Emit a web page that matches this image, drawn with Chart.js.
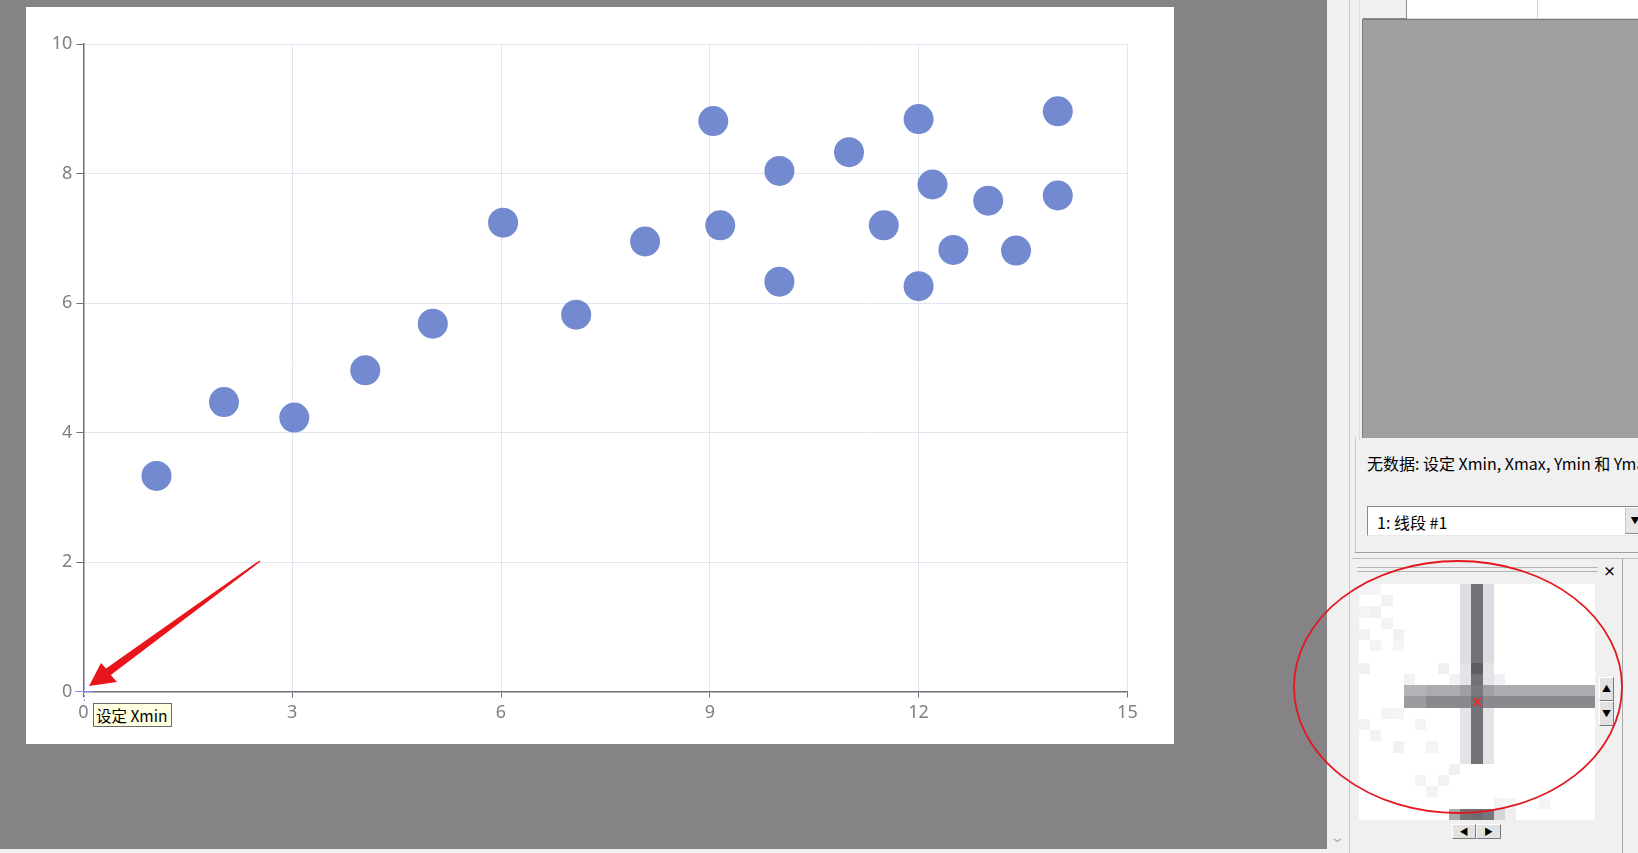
<!DOCTYPE html>
<html>
<head>
<meta charset="utf-8">
<script src="https://cdn.jsdelivr.net/npm/chart.js@4"></script>
<style>
  html, body { margin: 0; padding: 0; }
  body { width: 1638px; height: 853px; overflow: hidden; position: relative; background: #f0f0f0;
         font-family: 'Noto Sans CJK SC', 'Noto Sans', sans-serif; }
  .abs { position: absolute; }
  #workspace { left: 0; top: 0; width: 1327px; height: 849px; background: #858386; }
  #chart-box { left: 26px; top: 7px; width: 1148px; height: 737px; background: #fff; }
  #tip { left: 93px; top: 703px; width: 75px; height: 22px; background: #ffffe1; border: 1px solid #6a6a6a;
         font-size: 15.5px; line-height: 22px; padding-left: 2px; color: #000; white-space: nowrap; }
  .cross-h { left: 75px; top: 691px; width: 18px; height: 1px; background: #8c8cf0; }
  .cross-v { left: 84px; top: 683px; width: 1px; height: 18px;
             background: repeating-linear-gradient(#8c8cf0 0 2px, transparent 2px 4px); }
  #gray-area { left: 1362px; top: 19px; width: 276px; height: 418px; background: #a0a0a0;
               border-top: 1px solid #7a7a7a; border-left: 1px solid #7a7a7a; }
  .cell { top: 0; height: 18px; border-bottom: 1px solid #d8d8d8; }
  #status { left: 1367px; top: 451px; font-size: 16px; white-space: nowrap; color: #000; }
  #combo { left: 1367px; top: 506px; width: 290px; height: 28px; background: #fff;
           border-top: 1px solid #8a8a8a; border-left: 1px solid #8a8a8a; border-bottom: 1px solid #e8e8e8; }
  #combo span { position: absolute; left: 9px; top: 3px; font-size: 16px; }
  #combo-btn { left: 1625px; top: 507px; width: 20px; height: 27px; background: #e6e6e6;
               border-left: 1px solid #c8c8c8; border-bottom: 1px solid #8a8a8a; font-size: 9px; }
  #magnifier { left: 1359px; top: 584px; width: 236px; height: 236px; background: #fff; overflow: hidden; }
  .px { position: absolute; width: 11.24px; height: 11.24px; }
  .btn { background: #e2e2e2; border-top: 1px solid #fff; border-left: 1px solid #fff;
         border-right: 1px solid #7a7a7a; border-bottom: 1px solid #7a7a7a; box-sizing: border-box;
         font-size: 9px; text-align: center; color: #000; }
</style>
</head>
<body>
<div class="abs" id="workspace"></div>
<div class="abs" id="chart-box"><canvas id="scatter"></canvas></div>
<div class="abs cross-h"></div>
<div class="abs cross-v"></div>
<div class="abs" id="tip">设定 Xmin</div>

<!-- right side panel -->
<div class="abs" style="left:1349px;top:0;width:1px;height:853px;background:#c8c8c8"></div>
<div class="abs" style="left:1359px;top:0;width:1px;height:440px;background:#dcdcdc"></div>
<div class="abs" style="left:1331px;top:826px;font-size:14px;color:#b4b4b4;transform:scaleX(1.4)">&#8964;</div>
<div class="abs cell" style="left:1363px;width:43px;background:#f0f0f0;border-right:1px solid #8a8a8a;border-bottom:1px solid #8a8a8a"></div>
<div class="abs cell" style="left:1407px;width:130px;background:#fff;border-right:1px solid #d0d0d0"></div>
<div class="abs cell" style="left:1538px;width:100px;background:#fff"></div>
<div class="abs" id="gray-area"></div>
<div class="abs" style="left:1355px;top:437px;width:1px;height:116px;background:#c8c8c8"></div>
<div class="abs" id="status">无数据: 设定 Xmin, Xmax, Ymin 和 Ymax</div>
<div class="abs" id="combo"><span>1: 线段 #1</span></div>
<div class="abs btn" id="combo-btn" style="line-height:26px">&#9660;</div>
<div class="abs" style="left:1355px;top:552px;width:283px;height:1px;background:#a0a0a0"></div>
<div class="abs" style="left:1352px;top:558px;width:286px;height:1px;background:#c0c0c0"></div>
<div class="abs" style="left:1357px;top:567px;width:241px;height:1px;background:#b4b4b4"></div>
<div class="abs" style="left:1357px;top:571px;width:241px;height:1px;background:#b4b4b4"></div>
<div class="abs" style="left:1603px;top:561px;font-size:13px;font-weight:bold;color:#000">×</div>
<div class="abs" style="left:1622px;top:558px;width:1px;height:295px;background:#a8a8a8"></div>
<div class="abs" id="magnifier"></div>
<div class="abs btn" style="left:1599px;top:677px;width:15px;height:24px;line-height:22px">&#9650;</div>
<div class="abs btn" style="left:1599px;top:701px;width:15px;height:25px;line-height:23px">&#9660;</div>
<div class="abs btn" style="left:1452px;top:824px;width:24px;height:15px;line-height:13px">&#9664;</div>
<div class="abs btn" style="left:1476px;top:824px;width:25px;height:15px;line-height:13px">&#9654;</div>

<svg class="abs" style="left:0;top:0;pointer-events:none" width="1638" height="853">
  <polygon points="89,686 101,663 106,668.6 259.5,560.4 260.5,561.6 110.8,675 117,682" fill="#e8161c"/>
  <ellipse cx="1458" cy="687" rx="164" ry="126" fill="none" stroke="#e3171e" stroke-width="1.8"/>
  <path d="M1473,698 L1481,706 M1481,698 L1473,706" stroke="#ff2020" stroke-width="1.5"/>
</svg>

<script>
// scatter values
const xValues = [10.0, 8.07, 13.0, 9.05, 11.0, 14.0, 13.4, 10.0, 14.0, 12.5, 9.15,
                 11.5, 3.03, 12.2, 2.02, 1.05, 4.05, 6.03, 12.0, 12.0, 7.08, 5.02];
const yValues = [8.04, 6.95, 7.58, 8.81, 8.33, 7.66, 6.81, 6.33, 8.96, 6.82, 7.2,
                 7.2, 4.23, 7.83, 4.47, 3.33, 4.96, 7.24, 6.26, 8.84, 5.82, 5.68];
const xTicks = [0, 3, 6, 9, 12, 15];
const yTicks = [0, 2, 4, 6, 8, 10];

// magnifier pixels: [col, row, colour]
const magPixels = [
  [0,0,'#f3f3f5'],[1,0,'#f5f5f7'],[2,1,'#f2f2f4'],[0,2,'#f4f4f6'],[1,2,'#f1f1f3'],[2,3,'#f4f4f6'],
  [0,4,'#f3f3f5'],[3,4,'#f2f2f4'],[1,5,'#f4f4f6'],[3,5,'#f5f5f7'],[0,7,'#f1f1f3'],[4,8,'#f2f2f4'],
  [2,11,'#f3f3f5'],[3,11,'#f5f5f7'],[0,12,'#f2f2f4'],[5,12,'#f4f4f6'],[1,13,'#f3f3f5'],[3,14,'#f2f2f4'],
  [6,14,'#f5f5f7'],[5,17,'#f4f4f6'],[7,17,'#f2f2f4'],[8,16,'#f0f0f2'],[6,18,'#f4f4f6'],[12,19,'#f3f3f5'],
  [13,19,'#f6f6f8'],[16,19,'#f4f4f6'],[7,7,'#f0f0f2'],[8,8,'#f2f2f4'],[12,8,'#f0f0f2'],
  [8,20,'#a8a8ac'],[9,20,'#727276'],[10,20,'#6e6e72'],[11,20,'#78787c'],[12,20,'#d4d4d6'],[13,20,'#eeeeef'],
];
for (let r = 0; r <= 15; r++) {
  if (r === 9 || r === 10) continue;
  magPixels.push([9, r, r < 7 ? '#dcdce2' : '#e4e4e8']);
  magPixels.push([11, r, r < 7 ? '#dcdce2' : '#e4e4e8']);
  magPixels.push([10, r, r === 7 ? '#5e5e62' : '#737377']);
}
for (let c = 4; c <= 20; c++) {
  magPixels.push([c, 9, c < 6 ? '#b4b4b8' : c === 10 ? '#7a7a7e' : c >= 9 && c <= 11 ? '#a0a0a4' : '#acacb0']);
  magPixels.push([c, 10, c < 6 ? '#9c9ca0' : c === 10 ? '#707074' : '#8a8a8e']);
}
const mag = document.getElementById('magnifier');
magPixels.forEach(([c, r, col]) => {
  const d = document.createElement('div');
  d.className = 'px';
  d.style.left = (c * 11.24) + 'px';
  d.style.top = (r * 11.24) + 'px';
  d.style.background = col;
  mag.appendChild(d);
});

const AXIS_COLOR = '#6e7079';
const LABEL_COLOR = '#7e7f86';
const GRID_COLOR = '#e0e6f1';
const tickFont = { family: "'Noto Sans', sans-serif", size: 18 };

new Chart(document.getElementById('scatter'), {
  type: 'scatter',
  data: {
    datasets: [{
      data: xValues.map((x, i) => ({ x, y: yValues[i] })),
      backgroundColor: 'rgba(84,112,198,0.82)',
      borderWidth: 0,
      pointRadius: 15,
      pointHoverRadius: 15,
    }],
  },
  options: {
    responsive: true,
    maintainAspectRatio: false,
    animation: false,
    devicePixelRatio: 1,
    layout: { padding: { top: 37, right: 46.6, left: 0, bottom: 0 } },
    plugins: { legend: { display: false }, tooltip: { enabled: false } },
    scales: {
      x: {
        type: 'linear', min: 0, max: 15,
        afterBuildTicks: (s) => { s.ticks = xTicks.map((v) => ({ value: v })); },
        afterFit: (s) => { s.height = 52.5; },
        grid: { color: GRID_COLOR, tickColor: AXIS_COLOR, tickLength: 6, lineWidth: 1 },
        border: { color: AXIS_COLOR, width: 1.5 },
        ticks: { color: LABEL_COLOR, font: tickFont, padding: 5 },
      },
      y: {
        type: 'linear', min: 0, max: 10,
        afterBuildTicks: (s) => { s.ticks = yTicks.map((v) => ({ value: v })); },
        afterFit: (s) => { s.width = 57.4; },
        grid: { color: GRID_COLOR, tickColor: AXIS_COLOR, tickLength: 7, lineWidth: 1 },
        border: { color: AXIS_COLOR, width: 1.5 },
        ticks: { color: LABEL_COLOR, font: tickFont, padding: 4 },
      },
    },
  },
});
</script>
</body>
</html>
